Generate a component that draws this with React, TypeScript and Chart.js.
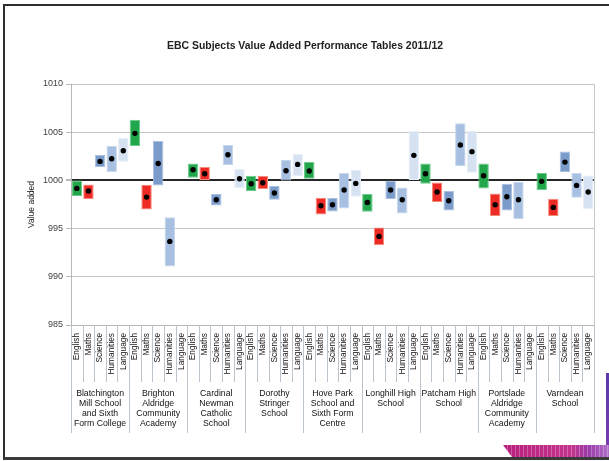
import React, { useEffect, useRef } from "react";
import { Chart, registerables } from "chart.js";

Chart.register(...registerables);

const chartTitle = "EBC Subjects Value Added Performance Tables 2011/12";
const yAxisTitle = "Value added";

const subjects = ["English", "Maths", "Science", "Humanities", "Language"];

const schools: string[][] = [
  ["Blatchington", "Mill School", "and Sixth", "Form College"],
  ["Brighton", "Aldridge", "Community", "Academy"],
  ["Cardinal", "Newman", "Catholic", "School"],
  ["Dorothy", "Stringer", "School"],
  ["Hove Park", "School and", "Sixth Form", "Centre"],
  ["Longhill High", "School"],
  ["Patcham High", "School"],
  ["Portslade", "Aldridge", "Community", "Academy"],
  ["Varndean", "School"],
];

// lower / upper bound of each confidence band, and the value-added score (dot)
const lowerBound: (number | null)[] = [
  998.37, 998.06, 1001.38, 1000.87, 1001.94,
  1003.56, 996.99, 999.48, 991.07, null,
  1000.28, 1000.03, 997.4, 1001.59, 999.2,
  998.9, 999.1, 997.99, 1000.0, 1000.45,
  1000.17, 996.47, 996.78, 997.09, 998.3,
  996.75, 993.29, 998.06, 996.57, 1000.03,
  999.65, 997.75, 996.89, 1001.49, 1000.8,
  999.17, 996.3, 996.89, 995.99, null,
  999.0, 996.3, 1000.87, 998.2, 997.02,
];
const upperBound: (number | null)[] = [
  1000.0, 999.58, 1002.66, 1003.56, 1004.39,
  1006.3, 999.55, 1004.08, 996.19, null,
  1001.76, 1001.38, 998.58, 1003.67, 1001.18,
  1000.48, 1000.48, 999.41, 1002.11, 1002.77,
  1001.9, 998.2, 998.2, 1000.76, 1001.1,
  998.58, 995.12, 999.97, 999.27, 1005.12,
  1001.76, 999.79, 998.9, 1005.92, 1005.12,
  1001.76, 998.65, 999.65, 999.86, null,
  1000.76, 998.1, 1003.0, 1000.76, 1000.52,
];
const scores: (number | null)[] = [
  999.17, 998.9, 1001.97, 1002.25, 1003.08,
  1004.88, 998.27, 1001.76, 993.67, null,
  1001.1, 1000.69, 997.99, 1002.66, 1000.17,
  999.65, 999.76, 998.69, 1001.0, 1001.66,
  1000.97, 997.37, 997.47, 999.0, 999.69,
  997.72, 994.19, 999.0, 997.99, 1002.6,
  1000.69, 998.79, 997.89, 1003.67, 1002.98,
  1000.48, 997.47, 998.3, 997.99, null,
  999.9, 997.2, 1001.9, 999.48, 998.79,
];

const yMin = 985;
const yMax = 1010;
const yStep = 5;
const baseline = 1000;

const subjectFill = ["#21a64b", "#ee2a25", "#7b9ccb", "#a7bfe0", "#d6e2f1"];
const subjectEdge = ["#6cc98a", "#f58a78", "#a9c0e0", "#c6d6ec", "#e6eef8"];

const FONT = "'Liberation Sans', Arial, sans-serif";

export default function App() {
  const ref = useRef<HTMLCanvasElement | null>(null);

  useEffect(() => {
    const canvas = ref.current;
    if (!canvas) return;
    const categoryLabels: string[] = [];
    schools.forEach(() => subjects.forEach((s) => categoryLabels.push(s)));
    const barData = lowerBound.map((lo, i) =>
      lo === null || upperBound[i] === null ? null : [lo, upperBound[i] as number]
    );

    const xAxisPlugin = {
      id: "xAxisLabels",
      afterDraw(chart: any) {
        const { ctx, chartArea, scales } = chart;
        const xs = scales.x;
        const n = categoryLabels.length;
        const half = (xs.getPixelForValue(1) - xs.getPixelForValue(0)) / 2;
        const bottom = chartArea.bottom;
        const boundary = (i: number) =>
          i < n ? xs.getPixelForValue(i) - half : xs.getPixelForValue(n - 1) + half;
        ctx.save();
        ctx.strokeStyle = "#bcc5ce";
        ctx.lineWidth = 1;
        for (let i = 0; i <= n; i++) {
          const x = Math.round(boundary(i)) + 0.5;
          ctx.beginPath();
          ctx.moveTo(x, bottom);
          ctx.lineTo(x, bottom + (i % subjects.length === 0 ? 108 : 57));
          ctx.stroke();
        }
        ctx.fillStyle = "#111";
        ctx.font = `8.3px ${FONT}`;
        for (let i = 0; i < n; i++) {
          ctx.save();
          ctx.translate(xs.getPixelForValue(i), bottom + 8);
          ctx.rotate(-Math.PI / 2);
          ctx.textAlign = "right";
          ctx.textBaseline = "middle";
          ctx.fillText(categoryLabels[i], 0, 0);
          ctx.restore();
        }
        ctx.font = `8.7px ${FONT}`;
        ctx.textAlign = "center";
        ctx.textBaseline = "middle";
        schools.forEach((lines, g) => {
          const cx = (boundary(g * subjects.length) + boundary((g + 1) * subjects.length)) / 2;
          lines.forEach((line, k) => ctx.fillText(line, cx, bottom + 69 + k * 10));
        });
        // chart title
        ctx.fillStyle = "#222";
        ctx.font = `bold 11.5px ${FONT}`;
        ctx.textBaseline = "alphabetic";
        ctx.fillText(chartTitle, 305, 49, 276);
        ctx.restore();
      },
      beforeDatasetsDraw(chart: any) {
        const { ctx, chartArea } = chart;
        ctx.save();
        ctx.strokeStyle = "#c8c8c8";
        ctx.lineWidth = 1;
        ctx.beginPath();
        ctx.moveTo(Math.round(chartArea.right) + 0.5, chartArea.top);
        ctx.lineTo(Math.round(chartArea.right) + 0.5, chartArea.bottom);
        ctx.stroke();
        ctx.restore();
      },
    };

    const chart = new Chart(canvas, {
      type: "bar",
      data: {
        labels: categoryLabels,
        datasets: [
          {
            type: "line",
            data: scores,
            showLine: false,
            pointRadius: 2.7,
            pointBackgroundColor: "#000",
            pointBorderWidth: 0,
            order: 0,
          } as any,
          {
            type: "bar",
            data: barData as any,
            backgroundColor: categoryLabels.map((_, i) => subjectFill[i % subjects.length]),
            borderColor: categoryLabels.map((_, i) => subjectEdge[i % subjects.length]),
            borderWidth: 1,
            borderSkipped: false,
            barPercentage: 0.9,
            categoryPercentage: 1,
            order: 1,
          },
        ],
      },
      options: {
        responsive: false,
        animation: false,
        devicePixelRatio: 1,
        layout: { padding: { left: 25, right: 15, top: 84, bottom: 136 } },
        plugins: {
          legend: { display: false },
          title: { display: false },
          tooltip: { enabled: false },
        },
        scales: {
          x: {
            type: "category",
            offset: true,
            grid: { drawOnChartArea: false, drawTicks: false },
            border: { display: true, color: "#b8b8b8" },
            ticks: { display: false },
          },
          y: {
            min: yMin,
            max: yMax,
            ticks: {
              stepSize: yStep,
              color: "#404040",
              font: { family: FONT, size: 9 },
              padding: 3,
              callback: (v: any) => String(v),
            },
            grid: {
              color: (c: any) => (c.tick && c.tick.value === baseline ? "#262626" : "#c8c8c8"),
              lineWidth: (c: any) => (c.tick && c.tick.value === baseline ? 2 : 1),
              tickColor: "#b8b8b8",
              tickLength: 5,
            },
            border: { display: true, color: "#b8b8b8" },
            title: {
              display: true,
              text: yAxisTitle,
              color: "#222",
              font: { family: FONT, size: 8.5 },
              padding: 2,
            },
            afterFit: (s: any) => {
              s.width = 46;
            },
          },
        },
      },
      plugins: [xAxisPlugin],
    });
    return () => chart.destroy();
  }, []);

  return (
    <div
      style={{
        position: "absolute",
        left: 0,
        top: 0,
        width: 609,
        height: 461,
        overflow: "hidden",
        background: "#fff",
      }}
    >
      <div
        style={{
          position: "absolute",
          left: 3,
          top: 4,
          width: 660,
          height: 451,
          borderTop: "2px solid #2e2e2e",
          borderLeft: "2px solid #2e2e2e",
          borderBottom: "3px solid #3a3a3a",
        }}
      />
      <div
        style={{
          position: "absolute",
          left: 606,
          top: 373,
          width: 3,
          height: 76,
          background: "linear-gradient(#5a3aa8, #7a3cb0)",
        }}
      />
      <div
        style={{
          position: "absolute",
          left: 503,
          top: 445,
          width: 106,
          height: 12,
          clipPath: "polygon(0 0, 100% 0, 100% 100%, 9px 100%)",
          background:
            "repeating-linear-gradient(90deg, rgba(255,255,255,0.25) 0 1px, rgba(255,255,255,0) 1px 4px), linear-gradient(90deg, #b8207e 0%, #c4348c 65%, #9a3aa8 80%, #b070c8 100%)",
        }}
      />
      <canvas
        ref={ref}
        width={609}
        height={461}
        style={{ position: "absolute", left: 0, top: 0, width: 609, height: 461 }}
      />
    </div>
  );
}
